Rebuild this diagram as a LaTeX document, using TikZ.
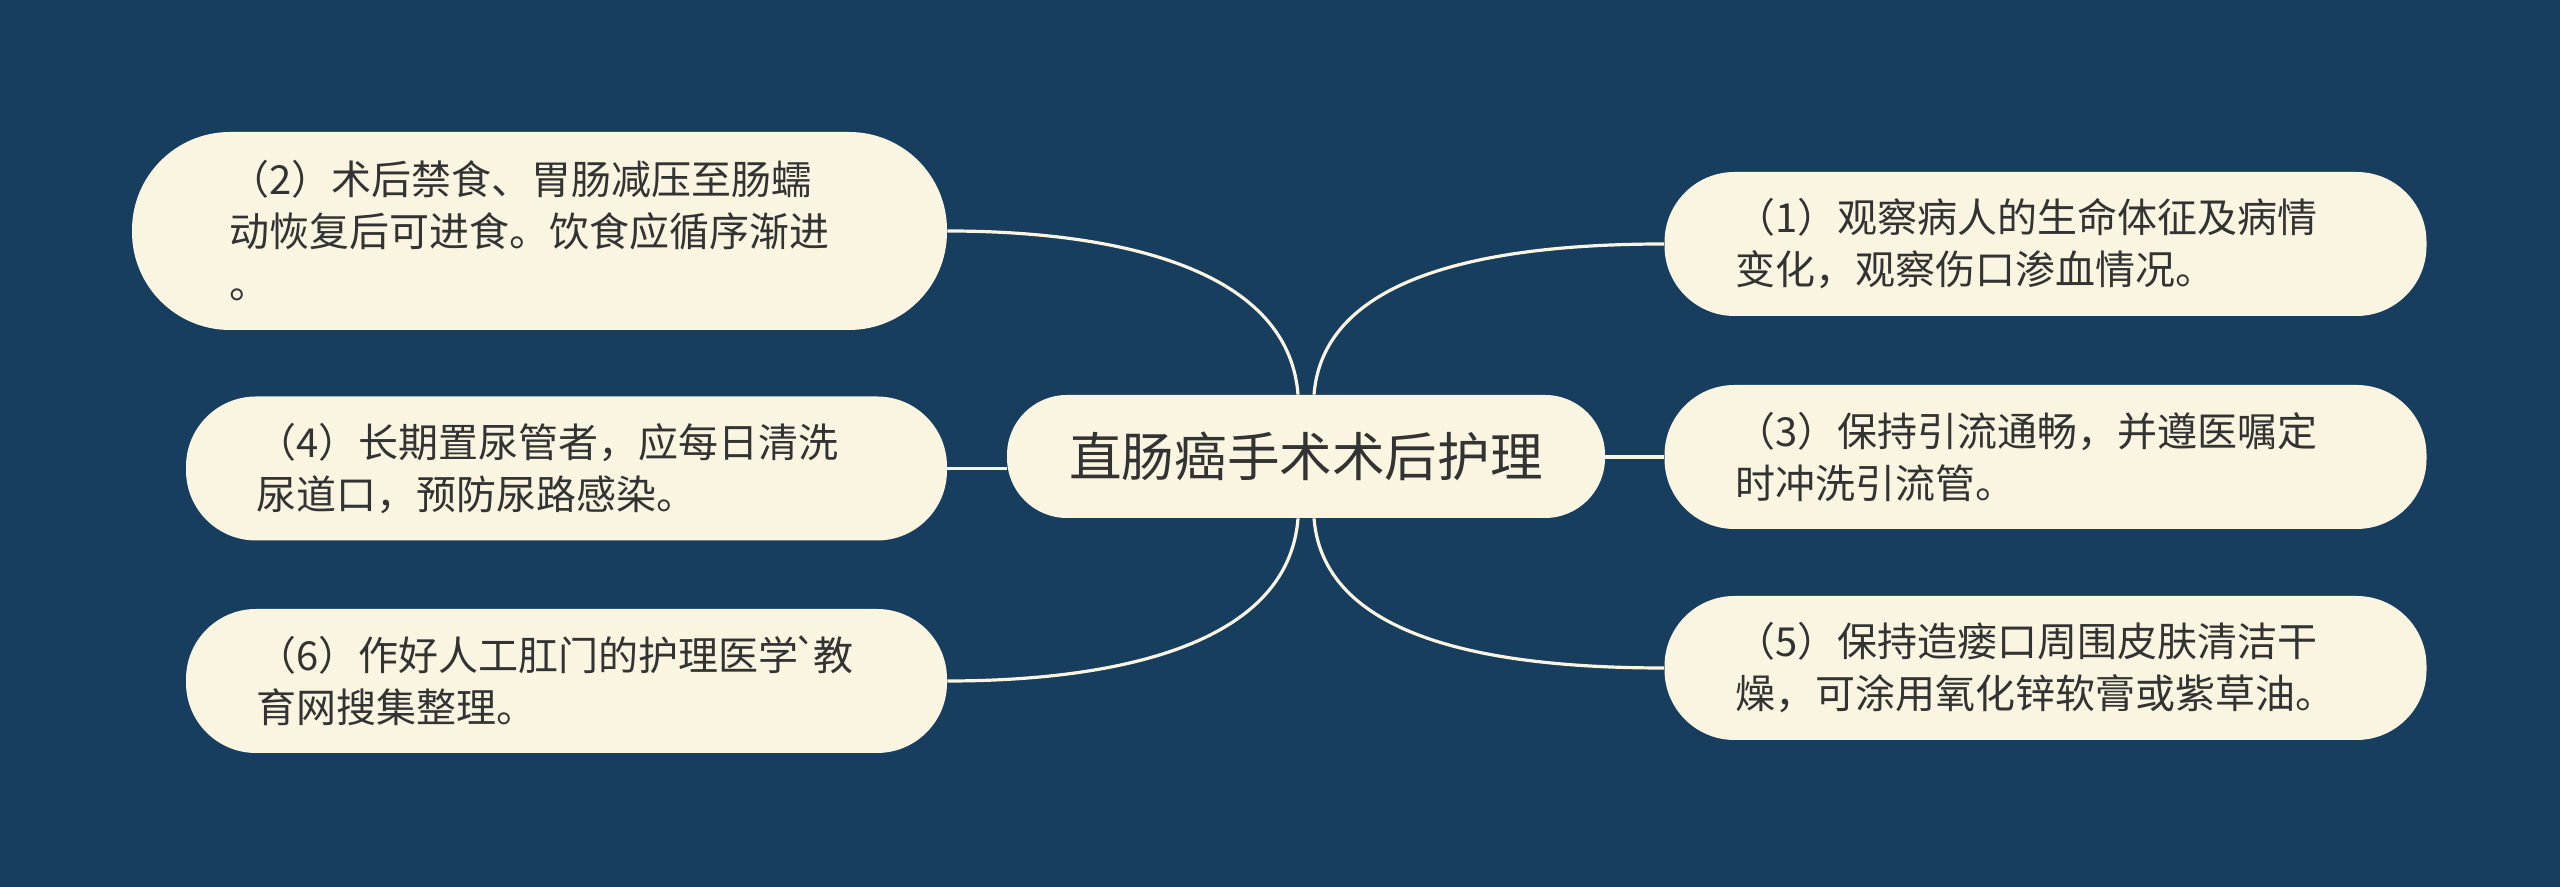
\documentclass[tikz,border=0pt]{standalone}
\usepackage{fontspec}
\setmainfont{Noto Sans CJK SC}
\definecolor{bgblue}{HTML}{173E5F}
\definecolor{cream}{HTML}{FAF5E1}
\definecolor{inkgray}{HTML}{333333}

\begin{document}
\begin{tikzpicture}[x=0.5pt, y=0.5pt,
    topic/.style={fill=cream, text=inkgray, rounded corners=30pt, minimum width=299pt,
        minimum height=61.5pt, inner sep=0pt, font=\fontsize{26.3}{32}\selectfont},
    item/.style={fill=cream, text=inkgray, rounded corners=35pt, minimum width=381pt,
        minimum height=72pt, inner sep=0pt, text width=310pt, align=left,
        font=\fontsize{20}{26}\selectfont},
    link/.style={draw=cream, line width=1.6pt}]

    % Draw the background
    \fill[bgblue] (0,0) rectangle (2560,887);
    \useasboundingbox (0,0) rectangle (2560,887);

    % Draw the central topic
    \node[topic] (c) at (1306,430.5) {直肠癌手术术后护理};

    % Draw the left items
    \node[item, minimum width=407.5pt, minimum height=99pt, rounded corners=49pt] (n2) at (539.5,656)
        {（2）术后禁食、胃肠减压至肠蠕\\动恢复后可进食。饮食应循序渐进\\。};
    \node[item, minimum width=380.5pt] (n4) at (566.5,418.5)
        {（4）长期置尿管者，应每日清洗\\尿道口，预防尿路感染。};
    \node[item, minimum width=380.5pt] (n6) at (566.5,206)
        {（6）作好人工肛门的护理医学\hspace{-0.12em}\textasciigrave\hspace{-0.12em}教\\育网搜集整理。};

    % Draw the right items
    \node[item] (n1) at (2045.5,643)
        {（1）观察病人的生命体征及病情\\变化，观察伤口渗血情况。};
    \node[item] (n3) at (2045.5,430)
        {（3）保持引流通畅，并遵医嘱定\\时冲洗引流管。};
    \node[item] (n5) at (2045.5,219)
        {（5）保持造瘘口周围皮肤清洁干\\燥，可涂用氧化锌软膏或紫草油。};

    % Draw the curved branches
    \draw[link] ([xshift=-4pt]c.north) .. controls +(-10,130) and +(160,0) .. (n2.east);
    \draw[link] ([xshift=4pt]c.north) .. controls +(10,125) and +(-160,0) .. (n1.west);
    \draw[link] ([xshift=-4pt]c.south) .. controls +(-10,-130) and +(160,0) .. (n6.east);
    \draw[link] ([xshift=4pt]c.south) .. controls +(10,-125) and +(-160,0) .. (n5.west);

    % Draw the straight branches
    \draw[link] (n4.east) -- (n4.east -| c.west);
    \draw[link] (c.east |- n3.west) -- (n3.west);

\end{tikzpicture}
\end{document}
